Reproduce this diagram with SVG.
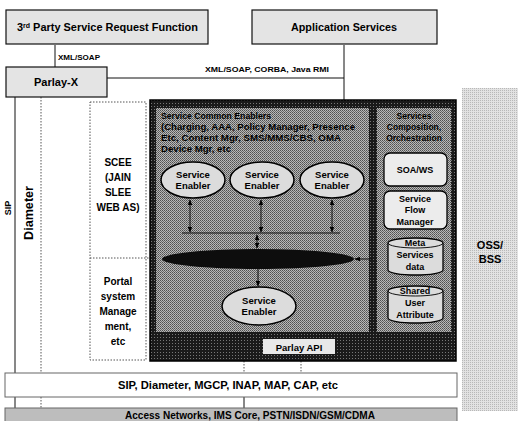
<svg xmlns="http://www.w3.org/2000/svg" width="523" height="421" viewBox="0 0 523 421">
  <style>
    .t { font-family: "Liberation Sans", Arial, sans-serif; font-weight: bold; fill: #000; }
    .box { fill: #e4e4e4; stroke: #111; stroke-width: 1.2; }
    .wire { stroke: #111; stroke-width: 1; fill: none; }
    .dots { stroke: #555; stroke-width: 1; stroke-dasharray: 1.5 1.5; fill: none; }
    .enabler { fill: #dcdcdc; stroke: #000; stroke-width: 1.5; }
    .panelbox { fill: #ececec; stroke: #000; stroke-width: 1.3; }
    .cyl { fill: #dcdcdc; stroke: #000; stroke-width: 1.3; }
  </style>
  <defs>
    <pattern id="darkDither" width="3" height="3" patternUnits="userSpaceOnUse">
      <rect width="3" height="3" fill="#1a1a1a"/>
      <rect x="1" y="1" width="1" height="1" fill="#777"/>
    </pattern>
    <pattern id="midDither" width="2" height="2" patternUnits="userSpaceOnUse">
      <rect width="2" height="2" fill="#b8b8b8"/>
      <rect width="1" height="1" fill="#505050"/>
      <rect x="1" y="1" width="1" height="1" fill="#6a6a6a"/>
    </pattern>
    <pattern id="lightDither" width="3" height="3" patternUnits="userSpaceOnUse">
      <rect width="3" height="3" fill="#e8e8e8"/>
      <rect x="1" y="2" width="1" height="1" fill="#b4b4b4"/>
    </pattern>
    <pattern id="sideDither" width="2" height="2" patternUnits="userSpaceOnUse">
      <rect width="2" height="2" fill="#e2e2e2"/>
      <rect width="1" height="1" fill="#b8b8b8"/>
    </pattern>
    <marker id="ah" viewBox="0 0 10 10" refX="9" refY="5" markerWidth="6" markerHeight="6" orient="auto-start-reverse">
      <path d="M0,1 L10,5 L0,9 z" fill="#000"/>
    </marker>
  </defs>

  <!-- OSS/BSS side column -->
  <g id="oss-bss">
    <rect x="462" y="88" width="56" height="323" fill="url(#sideDither)"/>
    <text class="t" x="490" y="249" font-size="11" text-anchor="middle">OSS/</text>
    <text class="t" x="490" y="263" font-size="11" text-anchor="middle">BSS</text>
  </g>

  <!-- connectors -->
  <g id="connectors">
    <line class="wire" x1="55" y1="45" x2="55" y2="67"/>
    <line class="wire" x1="107" y1="78" x2="344" y2="78"/>
    <line class="wire" x1="344" y1="45" x2="344" y2="100"/>
    <line class="wire" x1="15" y1="97" x2="15" y2="421" stroke-width="1.5"/>
    <line class="dots" x1="41" y1="97" x2="41" y2="408" stroke-dasharray="3 2"/>
    <line class="dots" x1="244" y1="361" x2="244" y2="373"/>
    <line class="dots" x1="301" y1="361" x2="301" y2="373"/>
    <line class="wire" x1="244" y1="397" x2="244" y2="408"/>
  </g>

  <!-- external application side -->
  <g id="third-party">
    <rect class="box" x="6" y="10" width="202" height="34" fill="url(#lightDither)"/>
    <text class="t" x="17" y="31" font-size="11" textLength="181" lengthAdjust="spacingAndGlyphs">3<tspan font-size="7" baseline-shift="super">rd</tspan> Party Service Request Function</text>
  </g>
  <g id="application-services">
    <rect class="box" x="252" y="10" width="185" height="34" fill="url(#lightDither)"/>
    <text class="t" x="344" y="31" font-size="11" text-anchor="middle" textLength="106" lengthAdjust="spacingAndGlyphs">Application Services</text>
  </g>
  <text class="t" x="58" y="60" font-size="8" textLength="42" lengthAdjust="spacingAndGlyphs">XML/SOAP</text>
  <text class="t" x="205" y="72" font-size="8" textLength="124" lengthAdjust="spacingAndGlyphs">XML/SOAP, CORBA, Java RMI</text>
  <g id="parlay-x">
    <rect class="box" x="6" y="67" width="101" height="30" fill="url(#lightDither)"/>
    <text class="t" x="56" y="86" font-size="11" text-anchor="middle">Parlay-X</text>
  </g>

  <!-- side protocol labels -->
  <text class="t" x="0" y="0" font-size="9" font-weight="normal" text-anchor="middle" transform="translate(11 208) rotate(-90)">SIP</text>
  <text class="t" x="0" y="0" font-size="12" font-weight="normal" text-anchor="middle" transform="translate(33 213) rotate(-90)" textLength="54" lengthAdjust="spacingAndGlyphs">Diameter</text>

  <!-- SCEE / portal column -->
  <g id="scee">
    <rect class="dots" x="90" y="102" width="56" height="258"/>
    <line class="dots" x1="90" y1="258" x2="150" y2="258"/>
    <g class="t" font-size="10" text-anchor="middle">
      <text x="118" y="166">SCEE</text>
      <text x="118" y="181">(JAIN</text>
      <text x="118" y="196">SLEE</text>
      <text x="118" y="211">WEB AS)</text>
    </g>
  </g>
  <g id="portal">
    <g class="t" font-size="10" text-anchor="middle">
      <text x="118" y="285">Portal</text>
      <text x="118" y="300">system</text>
      <text x="118" y="315">Manage</text>
      <text x="118" y="330">ment,</text>
      <text x="118" y="345">etc</text>
    </g>
  </g>

  <!-- service platform block -->
  <g id="service-platform">
    <rect x="150" y="100" width="306" height="261" fill="url(#darkDither)" stroke="#000" stroke-width="1.5"/>
    <rect x="156" y="108" width="213" height="224" fill="url(#midDither)"/>
    <rect x="377" y="108" width="74" height="224" fill="url(#midDither)"/>
  </g>
  <g id="common-enablers">
    <g class="t" font-size="8.5">
      <text x="161" y="119" textLength="110" lengthAdjust="spacingAndGlyphs">Service Common Enablers</text>
      <text x="161" y="130" textLength="194" lengthAdjust="spacingAndGlyphs">(Charging, AAA, Policy Manager, Presence</text>
      <text x="161" y="141" textLength="180" lengthAdjust="spacingAndGlyphs">Etc, Content Mgr, SMS/MMS/CBS, OMA</text>
      <text x="161" y="152" textLength="70" lengthAdjust="spacingAndGlyphs">Device Mgr, etc</text>
    </g>
  </g>
  <g id="enabler-1">
    <ellipse class="enabler" cx="193" cy="180" rx="32" ry="18"/>
    <text class="t" x="193" y="178" font-size="9.5" text-anchor="middle">Service</text>
    <text class="t" x="193" y="189" font-size="9.5" text-anchor="middle">Enabler</text>
  </g>
  <g id="enabler-2">
    <ellipse class="enabler" cx="262" cy="180" rx="32" ry="18"/>
    <text class="t" x="262" y="178" font-size="9.5" text-anchor="middle">Service</text>
    <text class="t" x="262" y="189" font-size="9.5" text-anchor="middle">Enabler</text>
  </g>
  <g id="enabler-3">
    <ellipse class="enabler" cx="332" cy="180" rx="32" ry="18"/>
    <text class="t" x="332" y="178" font-size="9.5" text-anchor="middle">Service</text>
    <text class="t" x="332" y="189" font-size="9.5" text-anchor="middle">Enabler</text>
  </g>
  <g id="enabler-bus">
    <ellipse cx="258" cy="259" rx="96" ry="10" fill="#0d0d0d"/>
  </g>
  <g id="enabler-4">
    <ellipse class="enabler" cx="259" cy="306" rx="37" ry="19"/>
    <text class="t" x="259" y="304" font-size="9.5" text-anchor="middle">Service</text>
    <text class="t" x="259" y="315" font-size="9.5" text-anchor="middle">Enabler</text>
  </g>
  <g id="enabler-links">
    <line class="wire" x1="190" y1="200" x2="190" y2="232" marker-start="url(#ah)" marker-end="url(#ah)"/>
    <line class="wire" x1="261" y1="200" x2="261" y2="232" marker-start="url(#ah)" marker-end="url(#ah)"/>
    <line class="wire" x1="332" y1="200" x2="332" y2="232" marker-start="url(#ah)" marker-end="url(#ah)"/>
    <line class="wire" x1="182" y1="233" x2="340" y2="233" stroke-width="1.3"/>
    <line class="wire" x1="257" y1="235" x2="257" y2="248" marker-start="url(#ah)" marker-end="url(#ah)"/>
    <line class="wire" x1="258" y1="269" x2="258" y2="286" marker-end="url(#ah)"/>
    <line class="wire" x1="372" y1="259" x2="355" y2="259" marker-end="url(#ah)"/>
  </g>

  <!-- composition / orchestration column -->
  <g id="composition">
    <g class="t" font-size="8.5" text-anchor="middle">
      <text x="414" y="119">Services</text>
      <text x="414" y="130">Composition,</text>
      <text x="414" y="141">Orchestration</text>
    </g>
  </g>
  <g id="soa-ws">
    <rect class="panelbox" x="384" y="153" width="63" height="33" rx="6"/>
    <text class="t" x="415" y="173" font-size="9" text-anchor="middle">SOA/WS</text>
  </g>
  <g id="flow-manager">
    <rect class="panelbox" x="384" y="191" width="63" height="38" rx="6"/>
    <g class="t" font-size="9" text-anchor="middle">
      <text x="415" y="202">Service</text>
      <text x="415" y="213">Flow</text>
      <text x="415" y="225">Manager</text>
    </g>
  </g>
  <g id="meta-data">
    <path class="cyl" d="M388,243 A27.5,5 0 0 1 443,243 V270 A27.5,5 0 0 1 388,270 Z"/>
    <path class="wire" d="M388,243 A27.5,5 0 0 0 443,243" stroke-width="1.3"/>
    <g class="t" font-size="9" text-anchor="middle">
      <text x="415" y="246">Meta</text>
      <text x="415" y="258">Services</text>
      <text x="415" y="270">data</text>
    </g>
  </g>
  <g id="shared-user">
    <path class="cyl" d="M388,291 A27.5,5 0 0 1 443,291 V318 A27.5,5 0 0 1 388,318 Z"/>
    <path class="wire" d="M388,291 A27.5,5 0 0 0 443,291" stroke-width="1.3"/>
    <g class="t" font-size="9" text-anchor="middle">
      <text x="415" y="294">Shared</text>
      <text x="415" y="306">User</text>
      <text x="415" y="318">Attribute</text>
    </g>
  </g>
  <g id="parlay-api">
    <rect x="263" y="339" width="72" height="15" fill="#e8e8e8"/>
    <text class="t" x="299" y="350.5" font-size="9.5" text-anchor="middle">Parlay API</text>
  </g>

  <!-- network protocol layer -->
  <g id="protocols">
    <rect x="5" y="373" width="452" height="24" fill="#fff" stroke="#666" stroke-width="1"/>
    <text class="t" x="228" y="389" font-size="11" text-anchor="middle" textLength="220" lengthAdjust="spacingAndGlyphs">SIP, Diameter, MGCP, INAP, MAP, CAP, etc</text>
  </g>
  <g id="access-networks">
    <rect x="5" y="408" width="452" height="14" fill="#bdbdbd" stroke="#666" stroke-width="1"/>
    <text class="t" x="250" y="419" font-size="10.5" text-anchor="middle" textLength="250" lengthAdjust="spacingAndGlyphs">Access Networks, IMS Core, PSTN/ISDN/GSM/CDMA</text>
  </g>
</svg>
